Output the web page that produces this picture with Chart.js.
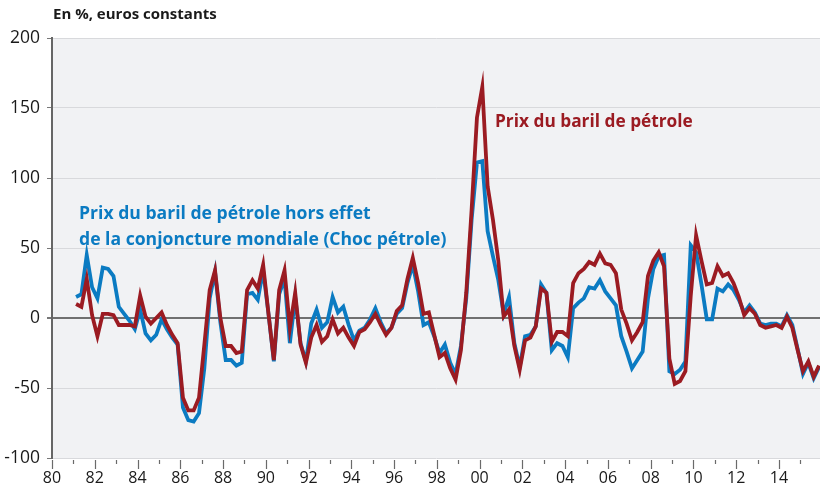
<!DOCTYPE html>
<html>
<head>
<meta charset="utf-8">
<script src="https://cdn.jsdelivr.net/npm/chart.js@4"></script>
<style>
  html, body { margin: 0; padding: 0; background: #fff; }
  #wrap { width: 820px; height: 491px; }
</style>
</head>
<body>
<div id="wrap"><canvas id="oilChart" width="820" height="491"></canvas></div>
<script>
// quarterly series, 1981 Q1 -> 2015 Q4
const firstYear = 1981;
const quarterCount = 140;

// Prix du baril de pétrole (red)
const prixBaril = [
  10, 8, 28, 2, -13, 3, 3, 2, -5, -5, -5, -6, 16, 1, -4, 0, 4, -5, -12, -18,
  -57, -66, -66, -57, -19, 20, 34, 0, -20, -20, -25, -24, 20, 27, 21, 38, 3, -30, 20, 34,
  -7, 18, -19, -32, -14, -5, -17, -13, -1, -11, -7, -14, -20, -10, -8, -3, 3, -5, -12, -7,
  5, 9, 28, 43, 25, 3, 4, -12, -28, -25, -36, -44, -23, 18, 77, 143, 165, 94, 70, 41,
  1, 6, -20, -37, -16, -14, -6, 21, 18, -17, -10, -10, -13, 25, 32, 35, 40, 38, 46, 39,
  38, 32, 6, -4, -16, -10, -3, 30, 41, 47, 37, -29, -47, -45, -38, 16, 59, 41, 24, 25,
  37, 30, 32, 25, 15, 2, 7, 3, -5, -7, -6, -5, -7, 1, -7, -23, -38, -31, -42, -34
];

// Prix du baril hors effet de la conjoncture mondiale (blue)
const chocPetrole = [
  15, 17, 45, 22, 14, 36, 35, 30, 8, 3, -2, -8, 6, -11, -16, -12, -1, -8, -14, -19,
  -64, -73, -74, -68, -36, 14, 33, -3, -30, -30, -34, -32, 17, 18, 13, 34, 3, -31, 17, 28,
  -18, 15, -18, -31, -4, 6, -7, -3, 15, 4, 8, -5, -16, -9, -7, -1, 7, -3, -11, -7,
  3, 7, 25, 38, 19, -5, -3, -13, -25, -19, -32, -40, -20, 14, 70, 111, 112, 62, 44, 27,
  3, 15, -18, -35, -13, -12, -6, 24, 18, -23, -18, -20, -28, 7, 11, 14, 22, 21, 27, 19,
  14, 9, -13, -24, -36, -30, -24, 14, 35, 44, 45, -38, -40, -37, -31, 52, 47, 24, -1, -1,
  21, 19, 24, 20, 13, 4, 9, 4, -4, -5, -4, -4, -6, 2, -5, -22, -40, -32, -43, -35
];

const yearLabels = ['80', '82', '84', '86', '88', '90', '92', '94', '96', '98',
                    '00', '02', '04', '06', '08', '10', '12', '14'];
const yTicks = [-100, -50, 0, 50, 100, 150, 200];

const RED = '#9b1b22';
const BLUE = '#0b7bc2';

// middle of each quarter
const quarters = [];
for (let i = 0; i < quarterCount; i++) quarters.push(firstYear + i * 0.25 + 0.125);

const toPoints = (vals) => vals.map((v, i) => ({ x: quarters[i], y: v }));

// grey plot background
const plotBackground = {
  id: 'plotBackground',
  beforeDraw(chart) {
    const { ctx, chartArea: a } = chart;
    ctx.save();
    ctx.fillStyle = '#f1f2f4';
    ctx.fillRect(a.left, a.top, a.right - a.left, a.bottom - a.top);
    ctx.restore();
  }
};

// year ticks under the axis: long on even years, short on odd ones
const yearTicks = {
  id: 'yearTicks',
  afterDraw(chart) {
    const { ctx, chartArea: a } = chart;
    const x = chart.scales.x;
    ctx.save();
    ctx.strokeStyle = '#6a6a6a';
    ctx.lineWidth = 1.2;
    for (let yr = 1980; yr <= 2015; yr++) {
      const px = Math.round(x.getPixelForValue(yr)) + 0.5;
      const len = yr % 2 === 0 ? 9 : 4;
      ctx.beginPath();
      ctx.moveTo(px, a.bottom + 2);
      ctx.lineTo(px, a.bottom + 2 + len);
      ctx.stroke();
    }
    ctx.restore();
  }
};

// title and series labels
const annotations = {
  id: 'annotations',
  afterDatasetsDraw(chart) {
    const ctx = chart.ctx;
    ctx.save();
    ctx.textBaseline = 'middle';
    ctx.textAlign = 'left';
    ctx.font = 'bold 15px "Open Sans"';
    ctx.fillStyle = '#1a1a1a';
    ctx.fillText('En %, euros constants', 53, 15);

    ctx.font = 'bold 17.3px "Open Sans"';
    ctx.fillStyle = RED;
    ctx.fillText('Prix du baril de pétrole', 495, 122);

    ctx.font = 'bold 17.6px "Open Sans"';
    ctx.fillStyle = BLUE;
    ctx.fillText('Prix du baril de pétrole hors effet', 79, 214);
    ctx.fillText('de la conjoncture mondiale (Choc pétrole)', 79, 240);
    ctx.restore();
  }
};

new Chart(document.getElementById('oilChart'), {
  type: 'line',
  data: {
    datasets: [
      {
        label: 'Prix du baril de pétrole',
        data: toPoints(prixBaril),
        borderColor: RED,
        borderWidth: 3.8,
        pointRadius: 0,
        tension: 0,
        fill: false
      },
      {
        label: 'Choc pétrole',
        data: toPoints(chocPetrole),
        borderColor: BLUE,
        borderWidth: 3.8,
        pointRadius: 0,
        tension: 0,
        fill: false
      }
    ]
  },
  options: {
    responsive: false,
    animation: false,
    layout: { padding: { top: 38, right: 0, left: 0, bottom: 0 } },
    plugins: {
      legend: { display: false },
      tooltip: { enabled: false }
    },
    scales: {
      x: {
        type: 'linear',
        min: 1980,
        max: 2015.92,
        afterFit(scale) { scale.height = 33; },
        border: { display: false },
        grid: {
          drawOnChartArea: false,
          tickLength: 9,
          tickColor: 'rgba(0,0,0,0)'
        },
        ticks: {
          stepSize: 1,
          autoSkip: false,
          maxRotation: 0,
          includeBounds: false,
          padding: 2,
          color: '#1a1a1a',
          font: { family: '"Open Sans"', size: 16 },
          callback: (v) => (v % 2 === 0 ? yearLabels[(v - 1980) / 2] : '')
        }
      },
      y: {
        min: -100,
        max: 200,
        afterFit(scale) { scale.width = 52; },
        afterBuildTicks(scale) { scale.ticks = yTicks.map((v) => ({ value: v })); },
        border: { display: true, color: '#666', width: 2 },
        grid: {
          color: (c) => (c.tick && c.tick.value === 0 ? '#707070' : '#d8d9dc'),
          lineWidth: (c) => (c.tick && c.tick.value === 0 ? 2 : 1),
          tickColor: '#777',
          tickLength: 5
        },
        ticks: {
          padding: 7,
          color: '#1a1a1a',
          font: { family: '"Open Sans"', size: 17.5 }
        }
      }
    }
  },
  plugins: [plotBackground, yearTicks, annotations]
});
</script>
</body>
</html>
